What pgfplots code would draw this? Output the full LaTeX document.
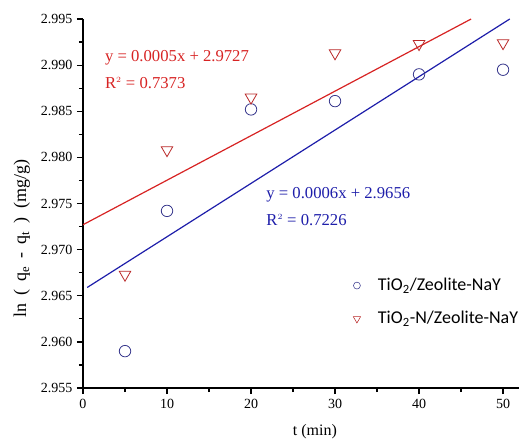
\documentclass[border=0pt]{standalone}
\usepackage{pgfplots}
\pgfplotsset{compat=1.18}
\usepackage{fontspec}
\setmainfont{Liberation Serif}
\newfontfamily\legfont{Carlito}
\definecolor{fitred}{RGB}{215,35,35}
\definecolor{fitblue}{RGB}{30,30,170}
\definecolor{ptblue}{RGB}{55,55,140}
\definecolor{ptred}{RGB}{185,40,40}

\begin{document}
\begin{tikzpicture}
\begin{axis}[
    scale only axis,
    width=327.6pt, height=276.75pt,
    xmin=0, xmax=52, ymin=2.955, ymax=2.995,
    axis lines*=left,
    axis line style={line width=1.2pt},
    xtick={0,10,20,30,40,50},
    ytick={2.955,2.960,2.965,2.970,2.975,2.980,2.985,2.990,2.995},
    minor tick num=1,
    tick align=outside,
    major tick length=4.5pt, minor tick length=3pt,
    tick style={line width=0.9pt, black},
    yticklabel style={/pgf/number format/.cd, fixed, fixed zerofill, precision=3},
    /pgf/number format/assume math mode=true,
    ticklabel style={font=\fontsize{10.5}{12}\selectfont},
    label style={font=\fontsize{12}{14}\selectfont},
    xlabel={t (min)},
    ylabel={ln\hspace{0.45em}(\hspace{0.45em}q$_{\mathrm{e}}$\hspace{0.45em}-\hspace{0.45em}q$_{\mathrm{t}}$\hspace{0.45em})\hspace{0.45em}(mg/g)},
    xlabel style={at={(axis description cs:0.531,-0.119)}, anchor=center},
    ylabel style={at={(axis description cs:-0.14,0.404)}, anchor=center, font=\fontsize{13.5}{15}\selectfont},
    clip=true,
    legend style={at={(axis cs:31.66,2.9675)}, anchor=north west, draw=none, fill=none,
        font=\legfont\fontsize{13.5}{16}\selectfont, row sep=10pt,
        /tikz/every odd column/.append style={column sep=11pt}},
    legend cell align=left,
]
\pgfplotstableread{
t c
5 2.9590
10 2.9742
20 2.9852
30 2.9861
40 2.9890
50 2.9895
}\datacirc
\pgfplotstableread{
t v
5 2.9673
10 2.9808
20 2.9865
30 2.9913
40 2.9923
50 2.9924
}\datatri

% fit lines
\addplot[fitred, line width=0.9pt, forget plot] coordinates {(0,2.9727) (46.2,2.995)};
\addplot[fitblue, line width=0.9pt, forget plot] coordinates {(0.5,2.9659) (50.8,2.995)};

\addplot[only marks, mark=o, mark size=4.3pt, ptblue, mark options={line width=0.6pt}, forget plot] table[x=t,y=c] {\datacirc};
\addplot[only marks, mark=triangle, mark size=5pt, ptred, mark options={rotate=180, line width=0.6pt}, forget plot] table[x=t,y=v] {\datatri};

\addlegendimage{only marks, mark=o, mark size=2.6pt, ptblue}
\addlegendentry{TiO\textsubscript{2}/Zeolite-NaY}
\addlegendimage{only marks, mark=triangle, mark size=3.2pt, ptred, mark options={rotate=180}}
\addlegendentry{TiO\textsubscript{2}-N/Zeolite-NaY}

\node[anchor=west, fitred, font=\fontsize{12.5}{14}\selectfont, inner sep=0pt] at (axis cs:2.6,2.99077) {y = 0.0005x + 2.9727};
\node[anchor=west, fitred, font=\fontsize{12.5}{14}\selectfont, inner sep=0pt] at (axis cs:2.6,2.98806) {R$^{\scriptscriptstyle 2}$ = 0.7373};
\node[anchor=west, fitblue, font=\fontsize{12.5}{14}\selectfont, inner sep=0pt] at (axis cs:21.8,2.97592) {y = 0.0006x + 2.9656};
\node[anchor=west, fitblue, font=\fontsize{12.5}{14}\selectfont, inner sep=0pt] at (axis cs:21.8,2.97321) {R$^{\scriptscriptstyle 2}$ = 0.7226};

\coordinate (bl) at (axis cs:-9.88,2.94925);
\coordinate (tr) at (axis cs:51.9,2.99706);
\end{axis}
\pgfresetboundingbox
\useasboundingbox (bl) rectangle (tr);
\end{tikzpicture}
\end{document}
